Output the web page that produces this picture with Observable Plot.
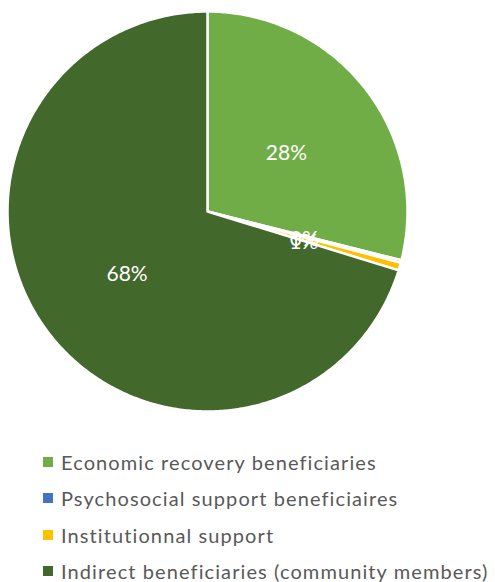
<!DOCTYPE html>
<html>
<head>
<meta charset="utf-8">
<script src="https://cdn.jsdelivr.net/npm/d3@7"></script>
<script src="https://cdn.jsdelivr.net/npm/@observablehq/plot@0.6"></script>
<style>
  html, body { margin: 0; padding: 0; background: #fff; }
  #chart svg { display: block; }
  .legend { margin: 0; padding: 0; font-family: Lato, "Open Sans", sans-serif; font-size: 20px; letter-spacing: 1.1px; color: #595959; }
  .legend .item { position: relative; height: 36.3px; line-height: 36.3px; padding-left: 61px; white-space: nowrap; }
  .legend .sw { position: absolute; left: 43px; top: 13px; width: 10px; height: 10px; }
</style>
</head>
<body>
<div id="chart"></div>
<div class="legend" id="legend"></div>
<script>
const categories = [
  "Economic recovery beneficiaries",
  "Psychosocial support beneficiaires",
  "Institutionnal support",
  "Indirect beneficiaries (community members)"
];
const values = [28, 0.2, 0.6, 68];
const colors = ["#70AD47", "#4472C4", "#FFC000", "#43682B"];

const data = categories.map((c, i) => ({category: c, value: values[i], color: colors[i]}));
const arcs = d3.pie().sort(null).value(d => d.value)(data);

// clockwise from 12 o'clock, y pointing down on screen
function slicePolygon(a) {
  const pts = [[0, 0]];
  const n = Math.max(2, Math.ceil((a.endAngle - a.startAngle) / 0.01));
  for (let k = 0; k <= n; k++) {
    const t = a.startAngle + (a.endAngle - a.startAngle) * k / n;
    pts.push([Math.sin(t), -Math.cos(t)]);
  }
  pts.push([0, 0]);
  return {type: "Feature", properties: {category: a.data.category, color: a.data.color}, geometry: {type: "Polygon", coordinates: [pts]}};
}
const slices = arcs.map(slicePolygon);
const labels = arcs.map(a => {
  const m = (a.startAngle + a.endAngle) / 2;
  return {x: 0.5 * Math.sin(m), y: -0.5 * Math.cos(m), text: Math.round(a.data.value) + "%"};
});

const W = 495, H = 422;
const chart = Plot.plot({
  width: W,
  height: H,
  marginLeft: 7,
  marginRight: W - 407,
  marginTop: 11,
  marginBottom: H - 411,
  projection: {type: "identity", domain: {type: "MultiPoint", coordinates: [[-1, -1], [1, 1]]}},
  style: {background: "#fff"},
  marks: [
    Plot.geo(slices, {fill: d => d.properties.color, stroke: "#fff", strokeWidth: 2.5, strokeLinejoin: "round"}),
    Plot.text(labels, {x: "x", y: "y", dy: 3, text: "text", fill: "#fff", fontSize: 21, fontFamily: "Lato, 'Open Sans', sans-serif", letterSpacing: 1})
  ]
});
document.getElementById("chart").appendChild(chart);

const leg = document.getElementById("legend");
leg.style.marginTop = "22px";
categories.forEach((c, i) => {
  const it = document.createElement("div");
  it.className = "item";
  const sw = document.createElement("span");
  sw.className = "sw";
  sw.style.background = colors[i];
  it.appendChild(sw);
  it.appendChild(document.createTextNode(c));
  leg.appendChild(it);
});
</script>
</body>
</html>
